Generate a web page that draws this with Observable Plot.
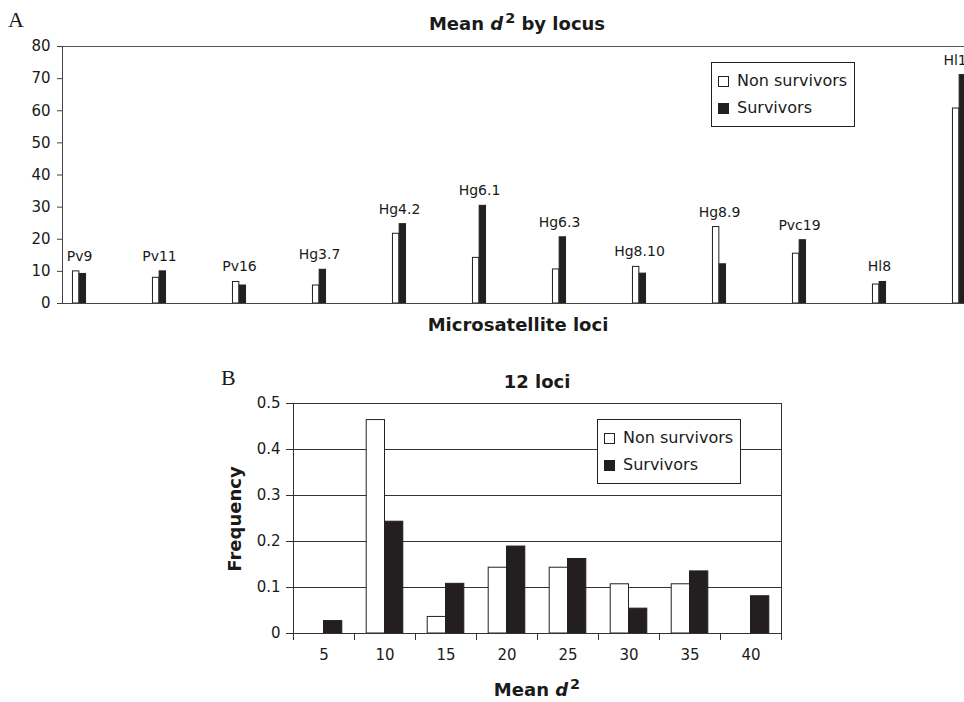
<!DOCTYPE html>
<html><head><meta charset="utf-8">
<script src="https://cdn.jsdelivr.net/npm/d3@7"></script>
<script src="https://cdn.jsdelivr.net/npm/@observablehq/plot@0.6"></script>
<style>
body{margin:0;background:#fff;}
#wrap{position:relative;width:964px;height:702px;overflow:hidden;font-family:"DejaVu Sans",sans-serif;color:#1a1a1a;background:#fff;}
.abs{position:absolute;line-height:1;white-space:nowrap;}
.bold{font-weight:bold;font-size:18px;}
.ctr{transform:translateX(-50%);}
.panel{font-family:"Liberation Serif",serif;font-size:22px;}
.legend{position:absolute;border:1px solid #222;background:#fff;box-sizing:border-box;}
.legend .row{position:absolute;left:6px;height:16px;display:flex;align-items:center;font-size:16px;line-height:1;white-space:nowrap;}
.sw{width:11px;height:11px;box-sizing:border-box;border:1px solid #222;margin-right:8px;}
.svgbox{position:absolute;left:0;}
sup{font-size:0.8em;vertical-align:0.5em;line-height:0;margin-left:2px;}
</style></head>
<body>
<div id="wrap">
  <div id="plotA" class="svgbox" style="top:0"></div>
  <div id="plotB" class="svgbox" style="top:360px"></div>

  <div class="abs panel" style="left:8px;top:9px">A</div>
  <div class="abs bold ctr" style="left:517px;top:15px">Mean <i>d</i><sup>2</sup> by locus</div>
  <div class="abs bold ctr" style="left:518px;top:316px">Microsatellite loci</div>

  <div class="abs panel" style="left:221px;top:367px">B</div>
  <div class="abs bold ctr" style="left:537px;top:373px">12 loci</div>
  <div class="abs bold" style="left:235px;top:519px;transform:translate(-50%,-50%) rotate(-90deg)">Frequency</div>
  <div class="abs bold ctr" style="left:537px;top:681px">Mean <i>d</i><sup>2</sup></div>

  <div class="legend" style="left:711px;top:62px;width:144px;height:65px">
    <div class="row" style="top:10px"><div class="sw" style="background:#fff"></div><span id="lgA1"></span></div>
    <div class="row" style="top:37px"><div class="sw" style="background:#231f20;border-color:#231f20"></div><span id="lgA2"></span></div>
  </div>
  <div class="legend" style="left:597px;top:419px;width:144px;height:65px">
    <div class="row" style="top:10px"><div class="sw" style="background:#fff"></div><span id="lgB1"></span></div>
    <div class="row" style="top:37px"><div class="sw" style="background:#231f20;border-color:#231f20"></div><span id="lgB2"></span></div>
  </div>
</div>
<script>
// ---------- data ----------
const seriesNames = ["Non survivors", "Survivors"];

// Panel A: mean d^2 by locus
const loci = ["Pv9","Pv11","Pv16","Hg3.7","Hg4.2","Hg6.1","Hg6.3","Hg8.10","Hg8.9","Pvc19","Hl8","Hl15"];
const nonSurvA = [10.0, 8.0, 6.7, 5.6, 21.7, 14.2, 10.6, 11.4, 23.8, 15.5, 5.9, 60.7];
const survA    = [9.2, 10.0, 5.6, 10.5, 24.7, 30.4, 20.6, 9.3, 12.2, 19.7, 6.7, 71.1];
const yTicksA  = [0, 10, 20, 30, 40, 50, 60, 70, 80];

// Panel B: frequency distribution of mean d^2 (12 loci)
const bins      = [5, 10, 15, 20, 25, 30, 35, 40];
const nonSurvB  = [0, 0.464, 0.036, 0.143, 0.143, 0.107, 0.107, 0];
const survB     = [0.027, 0.243, 0.108, 0.189, 0.162, 0.054, 0.135, 0.081];
const yTicksB   = [0, 0.1, 0.2, 0.3, 0.4, 0.5];

// ---------- legends ----------
document.getElementById("lgA1").textContent = seriesNames[0];
document.getElementById("lgA2").textContent = seriesNames[1];
document.getElementById("lgB1").textContent = seriesNames[0];
document.getElementById("lgB2").textContent = seriesNames[1];

const dark = "#231f20";
const style = {fontFamily: "DejaVu Sans, sans-serif", fontSize: "15px", color: "#1a1a1a", background: "transparent"};

// ---------- Panel A ----------
const dataA = loci.map((l, i) => ({locus: l, ns: nonSurvA[i], s: survA[i]}));
const firstCenterA = 77, bandA = 80.32, barWA = 6.7;
const plotA = Plot.plot({
  width: 964, height: 320,
  marginTop: 46, marginBottom: 17, marginLeft: 62, marginRight: 0,
  style,
  x: {domain: loci, range: [firstCenterA - bandA / 2, firstCenterA + bandA * (loci.length - 0.5)], padding: 0, axis: null},
  y: {domain: [0, 80]},
  marks: [
    Plot.ruleY([80], {stroke: "#555"}),
    Plot.barY(dataA, {x: "locus", y: "ns", fill: "#fff", stroke: "#222", strokeWidth: 1,
      insetLeft: bandA / 2 - barWA, insetRight: bandA / 2}),
    Plot.barY(dataA, {x: "locus", y: "s", fill: dark, stroke: dark, strokeWidth: 1,
      insetLeft: bandA / 2, insetRight: bandA / 2 - barWA}),
    Plot.text(dataA, {x: "locus", y: d => Math.max(d.ns, d.s), text: "locus", dy: -15, fontSize: 14}),
    Plot.ruleY([0], {stroke: "#444"}),
    Plot.frame({anchor: "left", stroke: "#444"}),
    Plot.axisY({ticks: yTicksA, tickSize: 5, tickPadding: 7, fontSize: 15, label: null, stroke: "#444"})
  ]
});
document.getElementById("plotA").append(plotA);

// ---------- Panel B ----------
const dataB = bins.map((b, i) => ({bin: b, ns: nonSurvB[i], s: survB[i]}));
const stepB = (964 - 183 - 293) / bins.length, barWB = 18.3;
const plotB = Plot.plot({
  width: 964, height: 320,
  marginTop: 43, marginBottom: 47, marginLeft: 293, marginRight: 183,
  style,
  x: {domain: bins, padding: 0},
  y: {domain: [0, 0.5]},
  marks: [
    Plot.ruleY(yTicksB.filter(v => v > 0), {stroke: "#333"}),
    Plot.barY(dataB.filter(d => d.ns > 0), {x: "bin", y: "ns", fill: "#fff", stroke: "#222", strokeWidth: 1,
      insetLeft: stepB / 2 - barWB, insetRight: stepB / 2}),
    Plot.barY(dataB.filter(d => d.s > 0), {x: "bin", y: "s", fill: dark, stroke: dark, strokeWidth: 1,
      insetLeft: stepB / 2, insetRight: stepB / 2 - barWB}),
    Plot.frame({stroke: "#333"}),
    Plot.axisY({ticks: yTicksB, tickFormat: d => String(d), tickSize: 7, tickPadding: 6, fontSize: 15, label: null, stroke: "#333"}),
    Plot.axisX({tickSize: 0, tickPadding: 16, fontSize: 15, label: null}),
    Plot.ruleX(bins, {x: d => d, y1: 0, y2: 0, dx: -stepB / 2, insetBottom: -7, stroke: "#333"}),
    Plot.ruleX([bins[bins.length - 1]], {x: d => d, y1: 0, y2: 0, dx: stepB / 2, insetBottom: -7, stroke: "#333"})
  ]
});
document.getElementById("plotB").append(plotB);
</script>
</body></html>
